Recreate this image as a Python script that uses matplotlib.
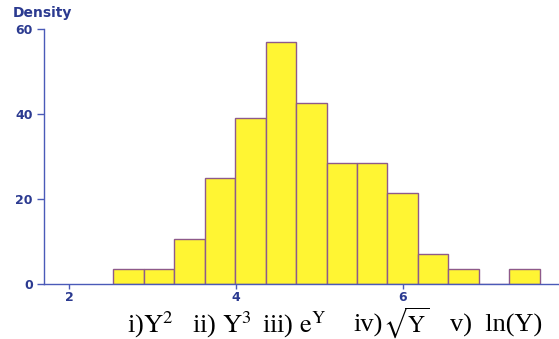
import matplotlib
matplotlib.use("Agg")
import matplotlib.pyplot as plt

# histogram (percent density)
bin_edges = [2.53, 2.895, 3.26, 3.625, 3.99, 4.355, 4.72, 5.085,
             5.45, 5.815, 6.18, 6.545, 6.91, 7.275, 7.64]
density = [3.5, 3.5, 10.7, 24.9, 39.1, 56.9, 42.7, 28.5,
           28.5, 21.3, 7.1, 3.5, 0.0, 3.5]

x_ticks = [2, 4, 6]
y_ticks = [0, 20, 40, 60]

options = ["i)$\\mathrm{Y}^2$", "ii) $\\mathrm{Y}^3$", "iii) $\\mathrm{e}^\\mathrm{Y}$",
           "iv)", "$\\sqrt{\\mathrm{Y}}$", "v)  ln(Y)"]
options_x = [127, 192, 262, 353, 383, 450]
options_size = [19, 19, 19, 19, 17, 19]

axis_col = "#4a5ab8"
label_col = "#2b3a90"

plt.rcParams['mathtext.fontset'] = 'stix'

fig = plt.figure(figsize=(5.59, 3.39), dpi=100)
ax = fig.add_axes([44 / 559, 55 / 339, 1 - 44 / 559, 255 / 339])

widths = [bin_edges[i + 1] - bin_edges[i] for i in range(len(density))]
ax.bar(bin_edges[:-1], density, width=widths, align="edge",
       color="#fff533", edgecolor="#8e5a8a", linewidth=1.0)

ax.set_xlim(1.70, 7.87)
ax.set_ylim(0, 60)
ax.set_xticks(x_ticks)
ax.set_yticks(y_ticks)

for s in ["top", "right"]:
    ax.spines[s].set_visible(False)
for s in ["left", "bottom"]:
    ax.spines[s].set_color(axis_col)
    ax.spines[s].set_linewidth(1.0)

ax.tick_params(colors=axis_col, width=1.0, labelcolor=label_col, labelsize=9)
ax.tick_params(axis="y", length=5, pad=3)
ax.tick_params(axis="x", length=3.5, pad=1.5)
for lab in ax.get_xticklabels() + ax.get_yticklabels():
    lab.set_fontweight("bold")

fig.text(13 / 559, 1 - 13 / 339, "Density", color=label_col, fontsize=10,
         fontweight="bold", ha="left", va="center")

for txt, px, sz in zip(options, options_x, options_size):
    fig.text(px / 559, 7 / 339, txt, fontsize=sz, family="Liberation Serif",
             ha="left", va="baseline", color="black")

fig.savefig("out.png", dpi=100)
